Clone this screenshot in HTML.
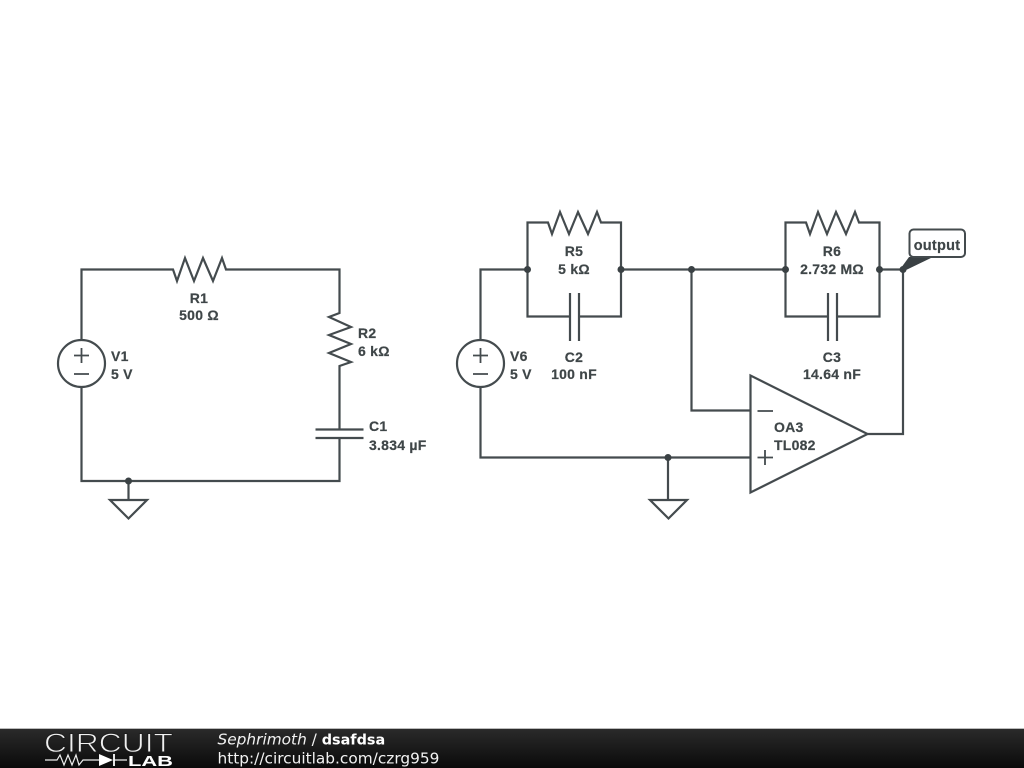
<!DOCTYPE html>
<html><head><meta charset="utf-8"><style>
html,body{margin:0;padding:0;background:#fff;width:1024px;height:768px;overflow:hidden}
svg{display:block}
.w{fill:none;stroke:#444b4e;stroke-width:2.2;stroke-linejoin:miter}
.l{font:bold 14px "Liberation Sans",sans-serif;fill:#3f4648;stroke:#3f4648;stroke-width:.2;letter-spacing:.25px}
.m{text-anchor:middle}
.d{fill:#3a4144}
.f{font:15.35px "DejaVu Sans",sans-serif;fill:#f2f2f2}
</style></head><body>
<svg width="1024" height="768" viewBox="0 0 1024 768" xmlns="http://www.w3.org/2000/svg">
<defs><linearGradient id="g" x1="0" y1="0" x2="0" y2="1"><stop offset="0" stop-color="#2a2a2a"/><stop offset="1" stop-color="#0a0a0a"/></linearGradient></defs>
<!-- Left circuit -->
<path class="w" d="M81.5 340V269.5H173L177 281L185 258L194 281L203 258L213 281L222 258L226 269.5H339.5V313L329 317L351 327L329 335L351 344L329 353L351 362L339.5 366V429.5M315.5 429.5H363.5M315.5 438H363.5M339.5 438V481H81.5V387"/>
<circle class="w" cx="81.5" cy="363.5" r="23.5"/>
<path class="w" style="stroke-width:1.8" d="M74 355.5H89M81.5 348V363M74 374H89"/>
<path class="w" d="M128.5 481V500M110 500H147L128.5 518.5Z"/>
<circle class="d" cx="128.5" cy="481" r="3.5"/>
<text class="l m" x="199" y="303">R1</text>
<text class="l m" x="199" y="320">500 Ω</text>
<text class="l" x="358" y="338">R2</text>
<text class="l" x="358" y="356">6 kΩ</text>
<text class="l" x="369" y="431">C1</text>
<text class="l" x="369" y="450">3.834 µF</text>
<text class="l" x="111" y="361">V1</text>
<text class="l" x="111" y="379">5 V</text>
<!-- Right circuit -->
<path class="w" d="M480.5 340V269.5H527.5M527.5 269.5V222.5H548L552 234L560 212L569 234L578 212L588 234L597 212L601 222.5H621V316.5H579M570 316.5H527.5V269.5M570 293V341M579 293V341M621 269.5H785.5"/>
<path class="w" d="M785.5 269.5V222.5H806L810 234L818 212L827 234L836 212L846 234L855 212L859 222.5H879.5V316.5H837M828 316.5H785.5V269.5M828 293V341M837 293V341M879.5 269.5H903V434H867.5"/>
<path class="w" d="M691.5 269.5V410.5H750.5M480.5 387V457.5H750.5M668 457.5V500M650 500H687L668.5 518.5Z"/>
<circle class="w" cx="480.5" cy="363.5" r="23.5"/>
<path class="w" style="stroke-width:1.8" d="M473 355.5H488M480.5 348V363M473 374H488"/>
<path class="w" d="M750.5 375.5V492.5L867.5 434Z"/>
<path class="w" style="stroke-width:1.8" d="M757.5 411H773M757.5 457.5H773M765 450V465"/>
<circle class="d" cx="527.5" cy="269.5" r="3.5"/>
<circle class="d" cx="621" cy="269.5" r="3.5"/>
<circle class="d" cx="691.5" cy="269.5" r="3.5"/>
<circle class="d" cx="785.5" cy="269.5" r="3.5"/>
<circle class="d" cx="879.5" cy="269.5" r="3.5"/>
<circle class="d" cx="903" cy="269.5" r="3.5"/>
<circle class="d" cx="668" cy="457.5" r="3.5"/>
<polygon class="d" points="901,268 909,257 933,257 904,271"/>
<rect x="909.5" y="229.5" width="55.5" height="27.5" rx="4" fill="#fff" stroke="#444b4e" stroke-width="2"/>
<text class="l m" x="937" y="250" style="font-size:14.5px">output</text>
<text class="l m" x="574" y="256">R5</text>
<text class="l m" x="574" y="274">5 kΩ</text>
<text class="l m" x="574" y="362">C2</text>
<text class="l m" x="574" y="379">100 nF</text>
<text class="l m" x="832" y="256">R6</text>
<text class="l m" x="832" y="274">2.732 MΩ</text>
<text class="l m" x="832" y="362">C3</text>
<text class="l m" x="832" y="379">14.64 nF</text>
<text class="l" x="510" y="361">V6</text>
<text class="l" x="510" y="379">5 V</text>
<text class="l" x="774" y="432">OA3</text>
<text class="l" x="774" y="450">TL082</text>
<!-- Footer -->
<rect x="0" y="729" width="1024" height="39" fill="url(#g)"/>
<rect x="0" y="728" width="1024" height="1" fill="#bbb"/>
<text x="44" y="752" textLength="129" lengthAdjust="spacingAndGlyphs" style="font:27px 'Liberation Sans',sans-serif;fill:#f0f0f0;stroke:#1e1e1e;stroke-width:.9">CIRCUIT</text>
<path d="M45 760H57L60 755L64 765L68 755L72 765L76 755L79 765L83 760H99M114 760H127" fill="none" stroke="#eee" stroke-width="1.2"/>
<polygon points="99,754 99,766 113,760" fill="#fff"/>
<path d="M114 754V766" stroke="#fff" stroke-width="1.8"/>
<text x="128" y="766" textLength="45" lengthAdjust="spacingAndGlyphs" style="font:bold 15px 'Liberation Sans',sans-serif;fill:#fff">LAB</text>
<text class="f" x="217.500" y="744.500"><tspan font-style="italic">Sephrimoth</tspan> / <tspan font-weight="bold" fill="#fff" style="font-size:14.4px">dsafdsa</tspan></text>
<text class="f" x="217.500" y="763.500">http://circuitlab.com/czrg959</text>
</svg>
</body></html>
